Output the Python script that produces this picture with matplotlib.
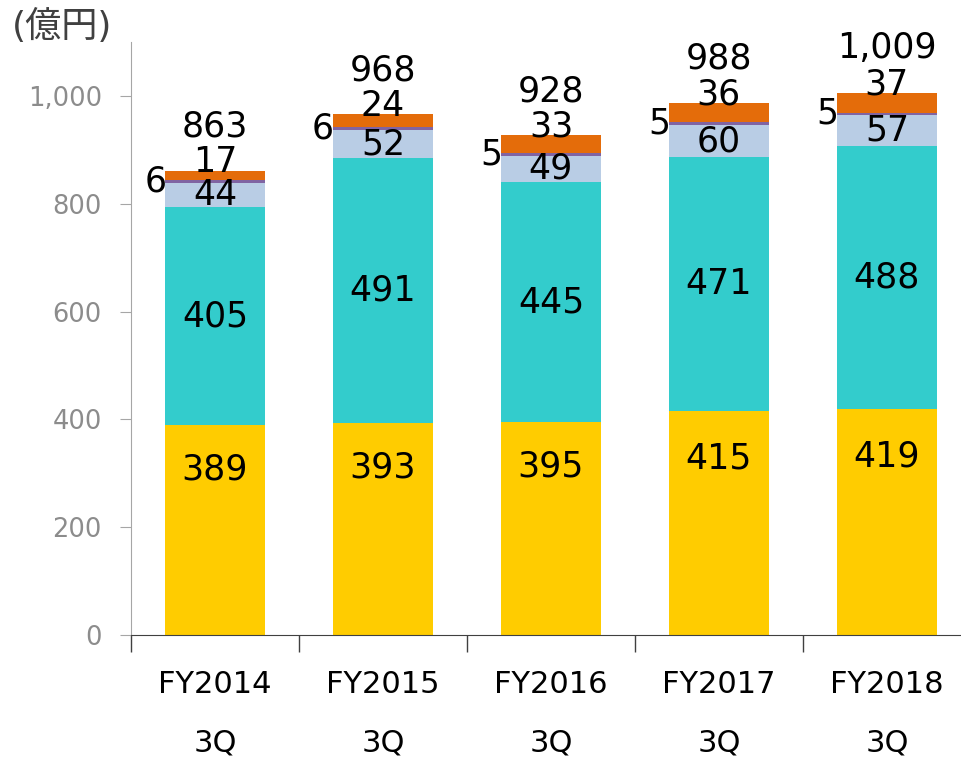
import numpy as np
import matplotlib
matplotlib.use("Agg")
import matplotlib.pyplot as plt

plt.rcParams['font.family'] = ['DejaVu Sans', 'Noto Sans CJK JP']

categories = ["FY2014\n3Q", "FY2015\n3Q", "FY2016\n3Q", "FY2017\n3Q", "FY2018\n3Q"]
seg_yellow = [389, 393, 395, 415, 419]
seg_teal = [405, 491, 445, 471, 488]
seg_lightblue = [44, 52, 49, 60, 57]
seg_purple = [6, 6, 5, 5, 5]
seg_orange = [17, 24, 33, 36, 37]
totals = ["863", "968", "928", "988", "1,009"]
yticks = [0, 200, 400, 600, 800, 1000]
ytick_labels = ["0", "200", "400", "600", "800", "1,000"]

series = [
    (seg_yellow, "#FFCC00"),
    (seg_teal, "#33CCCC"),
    (seg_lightblue, "#B9CDE5"),
    (seg_purple, "#8064A2"),
    (seg_orange, "#E46C0A"),
]

fig = plt.figure(figsize=(9.61, 7.59), dpi=100)
ax = fig.add_axes([0.1363, 0.1634, 0.874, 0.7813])

x = np.arange(len(categories))
width = 0.6
bottom = np.zeros(len(categories))
for vals, color in series:
    ax.bar(x, vals, width, bottom=bottom, color=color, edgecolor="none", zorder=2)
    bottom += np.array(vals)

lab = dict(fontsize=25, color="black", zorder=3)
for i in range(len(categories)):
    # yellow label sits in the upper part of its segment
    ax.text(x[i], seg_yellow[i] * 0.79, str(seg_yellow[i]), ha="center", va="center", **lab)
    b = seg_yellow[i]
    ax.text(x[i], b + seg_teal[i] / 2, str(seg_teal[i]), ha="center", va="center", **lab)
    b += seg_teal[i]
    ax.text(x[i], b + seg_lightblue[i] / 2, str(seg_lightblue[i]), ha="center", va="center", **lab)
    b += seg_lightblue[i]
    # small purple value to the left of the bar
    ax.text(x[i] - width / 2 + 0.01, b + seg_purple[i] / 2, str(seg_purple[i]),
            ha="right", va="center", **lab)
    top = bottom[i]
    ax.text(x[i], top + 16, str(seg_orange[i]), ha="center", va="center", **lab)
    ax.text(x[i], top + 82, totals[i], ha="center", va="center", **lab)

ax.set_xlim(-0.5, len(categories) - 0.5)
ax.set_ylim(0, 1100)

ax.set_yticks(yticks)
ax.set_yticklabels(ytick_labels, fontsize=18.5, color="#8C8C8C")
ax.tick_params(axis="y", length=8, color="#A6A6A6", pad=13)

ax.set_xticks(x)
ax.set_xticklabels(categories, fontsize=22, linespacing=2.3)
ax.set_xticks(np.arange(len(categories) + 1) - 0.5, minor=True)
ax.tick_params(axis="x", which="major", length=0, pad=25)
ax.tick_params(axis="x", which="minor", length=12, color="#404040", width=1)

for s in ["top", "right"]:
    ax.spines[s].set_visible(False)
ax.spines["left"].set_color("#A6A6A6")
ax.spines["bottom"].set_color("#404040")

fig.text(0.012, 0.965, "(億円)", fontsize=26, color="#404040", ha="left", va="center")

fig.savefig("out.png", dpi=100)
